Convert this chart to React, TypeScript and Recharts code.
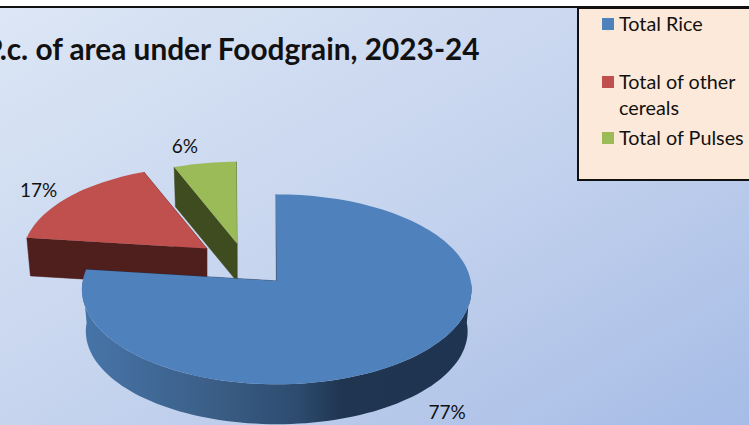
import { PieChart, Pie } from 'recharts';

const categories = ['Total Rice', 'Total of other cereals', 'Total of Pulses'];
const shares = [77, 17, 6];
const colors = ['#4f81bd', '#c0504d', '#9bbb59'];
const wallColors = ['#1e3450', '#4e1f1d', '#3f4c20'];

// rice is drawn last so it sits on top of the two slices behind it
const drawOrder = [1, 2, 0];
const pieData = drawOrder.map((i) => ({
  name: categories[i],
  value: shares[i],
  fill: colors[i],
  wall: wallColors[i],
  order: i,
}));

const legendRows = [
  { lines: ['Total Rice'], top: 1 },
  { lines: ['Total of other', 'cereals'], top: 58.5 },
  { lines: ['Total of Pulses'], top: 114.5 },
];
const labelNudge = [[2, -3], [0, 4], [-13, 0]];
const sliceNudge = [[1.5, 0], [0, 0], [2, 4]];

// tilted view of the pie
const SQUASH = 0.4856;
const PERSPECTIVE = 0.0888;
const EXPLODE_X = 0.241;
const EXPLODE_Y = 0.253;
const rad = (deg: number) => (deg * Math.PI) / 180;

const getGeometry = (props: any, clock: number) => {
  const shrink = Math.cos(rad(clock)) > 0 ? 0.94 : 0.995;
  const R = props.outerRadius;
  const nudge = sliceNudge[props.order] ?? [0, 0];
  const ox = props.cx + EXPLODE_X * R * Math.sin(rad(clock)) + nudge[0];
  const oy = props.cy - EXPLODE_Y * R * SQUASH * Math.cos(rad(clock)) + nudge[1];
  return { ox, oy, rx: R * shrink, ry: R * shrink * SQUASH, depth: shrink < 0.95 ? 38 : 42 };
};

const project = (g: any, a: number, scale = 1, drop = 0): [number, number] => {
  const den = 1 + PERSPECTIVE * Math.cos(rad(a));
  return [
    g.ox + (scale * g.rx * Math.sin(rad(a))) / den,
    g.oy + drop - (scale * g.ry * Math.cos(rad(a))) / den,
  ];
};

const arc = (g: any, from: number, to: number, scale = 1, drop = 0) => {
  const pts: [number, number][] = [];
  const n = Math.max(2, Math.ceil(Math.abs(to - from) / 2));
  for (let i = 0; i <= n; i++) pts.push(project(g, from + ((to - from) * i) / n, scale, drop));
  return pts;
};

const toPath = (pts: number[][]) =>
  'M' + pts.map((p) => `${p[0].toFixed(1)},${p[1].toFixed(1)}`).join('L') + 'Z';

const Slice3D = (props: any) => {
  let a0 = 90 - props.startAngle;
  let a1 = 90 - props.endAngle;
  // angles come in past a full turn, with float noise
  if (a0 >= 359) {
    a0 -= 360;
    a1 -= 360;
  }
  const g = getGeometry(props, (a0 + a1) / 2);
  const apex: [number, number] = [g.ox, g.oy];
  const apexLow: [number, number] = [g.ox, g.oy + g.depth];
  const radialWall = (a: number) =>
    toPath([apex, project(g, a), project(g, a, 0.98, g.depth), apexLow]);
  const frontFrom = Math.max(a0, 90);
  const frontTo = Math.min(a1, 270);
  const gradId = `wall-${props.order}`;
  return (
    <g>
      <defs>
        <linearGradient id={gradId} x1="0" y1="0" x2="1" y2="0">
          <stop offset="0%" stopColor="#4775a9" />
          <stop offset="35%" stopColor="#3a5d85" />
          <stop offset="55%" stopColor="#2d4c6f" />
          <stop offset="67%" stopColor="#1f3550" />
          <stop offset="100%" stopColor="#1e3450" />
        </linearGradient>
      </defs>
      <path d={radialWall(a0)} fill={props.wall} stroke={props.wall} strokeWidth={0.5} />
      <path d={radialWall(a1)} fill={props.wall} stroke={props.wall} strokeWidth={0.5} />
      {frontTo > frontFrom && (
        <path
          d={toPath([
            ...arc(g, frontFrom, frontTo),
            ...arc(g, frontTo, frontFrom, 0.98, g.depth),
          ])}
          fill={`url(#${gradId})`}
        />
      )}
      <path d={toPath([apex, ...arc(g, a0, a1)])} fill={props.fill} />
    </g>
  );
};

const SliceLabel = (props: any) => {
  const clock = 90 - props.midAngle;
  const g = getGeometry(props, clock);
  const [px, py] = project(g, clock, 1.22);
  const front = Math.cos(rad(clock)) < 0 ? g.depth : 0;
  const nudge = labelNudge[props.order] ?? [0, 0];
  return (
    <text
      x={px + nudge[0]}
      y={py + front + nudge[1]}
      textAnchor="middle"
      dominantBaseline="central"
      fontFamily="Lato"
      fontSize={19}
      fill="#111"
    >
      {`${props.value}%`}
    </text>
  );
};

export default function App() {
  return (
    <div
      style={{
        position: 'relative',
        width: 749,
        height: 425,
        overflow: 'hidden',
        background: '#fff',
        fontFamily: 'Lato',
      }}
    >
      <style>{'body{margin:0}'}</style>
      <div
        style={{
          position: 'absolute',
          left: 0,
          top: 6,
          width: 749,
          height: 419,
          boxSizing: 'border-box',
          borderTop: '2px solid #111',
          background: 'linear-gradient(150deg, #dce6f5 0%, #c6d4ee 50%, #a6bce6 100%)',
        }}
      />
      <div
        style={{
          position: 'absolute',
          left: -16,
          top: 31,
          fontSize: 29.8,
          fontWeight: 700,
          color: '#111',
          whiteSpace: 'nowrap',
        }}
      >
        P.c. of area under Foodgrain, 2023-24
      </div>
      <div style={{ position: 'absolute', left: 0, top: 0 }}>
        <PieChart width={749} height={425} margin={{ top: 0, right: 0, bottom: 0, left: 0 }}>
          <Pie
            data={pieData}
            dataKey="value"
            nameKey="name"
            cx={244}
            cy={263}
            outerRadius={195}
            startAngle={-187}
            endAngle={-547}
            stroke="none"
            shape={Slice3D}
            label={SliceLabel}
            labelLine={false}
            isAnimationActive={false}
          />
        </PieChart>
      </div>
      <div
        style={{
          position: 'absolute',
          left: 577,
          top: 7,
          width: 190,
          height: 174,
          boxSizing: 'border-box',
          border: '2px solid #111',
          background: '#fde9d9',
        }}
      >
        {legendRows.map((row, i) => (
          <div key={categories[i]} style={{ position: 'absolute', left: 23, top: row.top }}>
            <span
              style={{
                position: 'absolute',
                left: 0,
                top: 8,
                width: 12,
                height: 12,
                background: colors[i],
              }}
            />
            {row.lines.map((line) => (
              <div
                key={line}
                style={{
                  marginLeft: 17,
                  fontSize: 19.8,
                  lineHeight: '26px',
                  color: '#111',
                  whiteSpace: 'nowrap',
                }}
              >
                {line}
              </div>
            ))}
          </div>
        ))}
      </div>
    </div>
  );
}
